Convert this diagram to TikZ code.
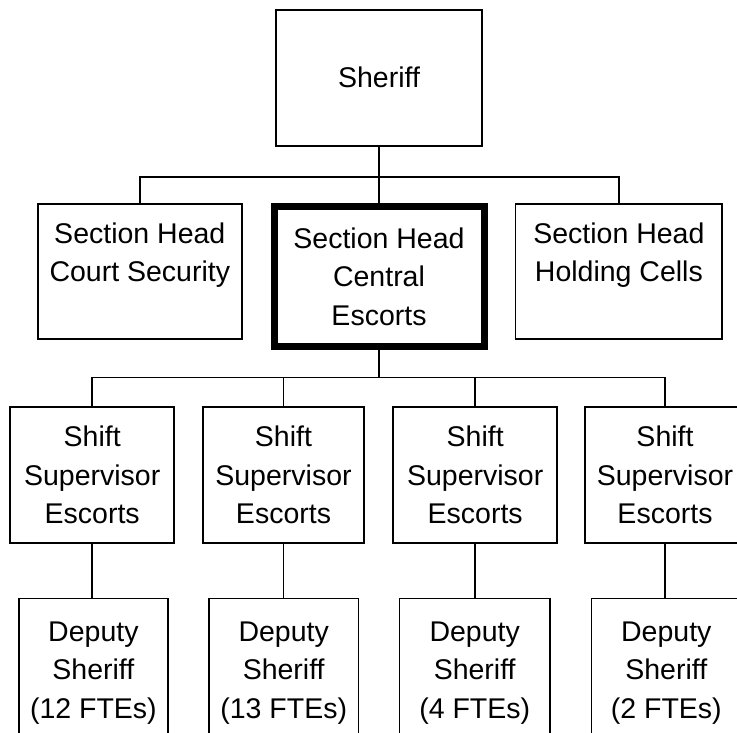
\documentclass[tikz,border=0pt]{standalone}
\usepackage{fontspec}
\setmainfont{Liberation Sans}
\begin{document}
\begin{tikzpicture}[x=1pt,y=-1pt,
  orgbox/.style={draw=black, line width=1.8pt, align=center, inner sep=0pt,
    font=\fontsize{28.5}{38.5}\selectfont, text=black},
  keybox/.style={orgbox, line width=7pt},
  conn/.style={draw=black, line width=1.8pt}]
\useasboundingbox (0,0) rectangle (737,732);
\fill[white] (0,0) rectangle (737,732);
\clip (0,0) rectangle (737,732);
% level 1
\node[orgbox, minimum width=205.4pt, minimum height=135.7pt] (sheriff) at (379,77.8) {Sheriff};
% level 2
\node[orgbox, minimum width=204.4pt, minimum height=135pt] (court) at (139.8,271.5) {Section Head\\Court Security\\\mbox{}};
\node[keybox, minimum width=210pt, minimum height=139.5pt] (central) at (379,276.7) {Section Head\\Central\\Escorts};
\node[orgbox, minimum width=206.8pt, minimum height=135pt] (holding) at (618.9,271.5) {Section Head\\Holding Cells\\\mbox{}};
% level 3
\node[orgbox, minimum width=163.7pt, minimum height=135.5pt] (s1) at (92.2,475) {Shift\\Supervisor\\Escorts};
\node[orgbox, minimum width=161pt, minimum height=135.5pt] (s2) at (283.5,475) {Shift\\Supervisor\\Escorts};
\node[orgbox, minimum width=163.7pt, minimum height=135.5pt] (s3) at (475.2,475) {Shift\\Supervisor\\Escorts};
\node[orgbox, minimum width=160pt, minimum height=135.5pt] (s4) at (665,475) {Shift\\Supervisor\\Escorts};
% level 4
\node[orgbox, minimum width=149pt, minimum height=149pt] (d1) at (93.4,673) {Deputy\\Sheriff\\(12 FTEs)};
\node[orgbox, minimum width=149.5pt, minimum height=149pt] (d2) at (283.7,673) {Deputy\\Sheriff\\(13 FTEs)};
\node[orgbox, minimum width=150.5pt, minimum height=149pt] (d3) at (474.7,673) {Deputy\\Sheriff\\(4 FTEs)};
\node[orgbox, minimum width=149.5pt, minimum height=149pt] (d4) at (666.3,673) {Deputy\\Sheriff\\(2 FTEs)};
% buses
\coordinate (b1) at (379,177);
\coordinate (b2) at (379,377.5);
% connectors
\draw[conn] (sheriff.south) -- (central.north);
\draw[conn] (court.north) |- (b1) -| (holding.north);
\draw[conn] (central.south) -- (b2);
\draw[conn] (s1.north) |- (b2) -| (s4.north);
\draw[conn] (s2.north) -- (s2.north |- b2);
\draw[conn] (s3.north) -- (s3.north |- b2);
\draw[conn] (s1.south) -- (s1.south |- d1.north);
\draw[conn] (s2.south) -- (s2.south |- d2.north);
\draw[conn] (s3.south) -- (s3.south |- d3.north);
\draw[conn] (s4.south) -- (s4.south |- d4.north);
\end{tikzpicture}
\end{document}
